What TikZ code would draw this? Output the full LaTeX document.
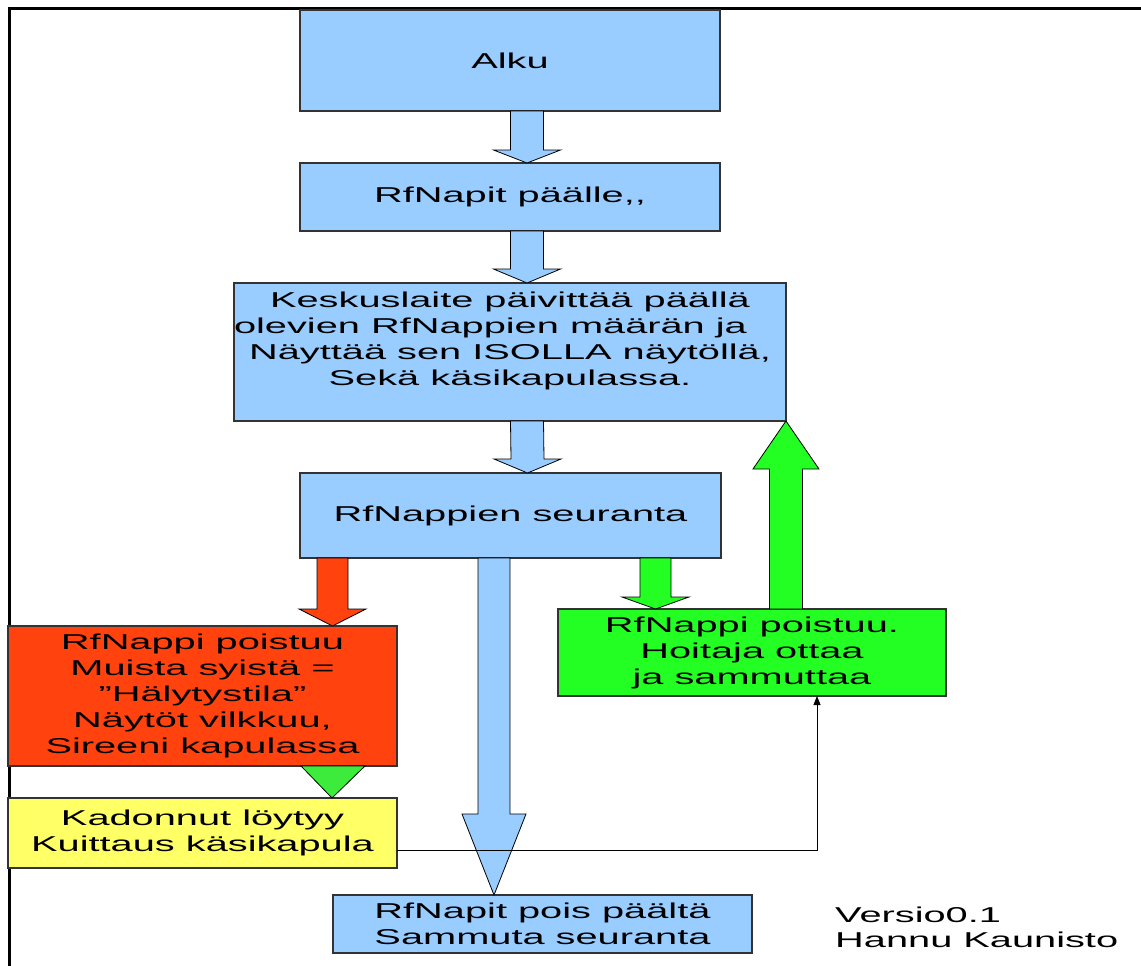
\documentclass[tikz,border=0pt]{standalone}
\usepackage{fontspec}
\setmainfont{Liberation Sans}[FakeStretch=1.85]
\usetikzlibrary{arrows.meta}
\definecolor{kblue}{HTML}{99CCFF}
\definecolor{kred}{HTML}{FF420E}
\definecolor{kgreen}{HTML}{23FF23}
\definecolor{kgreentri}{HTML}{3DEB3D}
\definecolor{kyellow}{HTML}{FFFF66}
\definecolor{kedge}{HTML}{333333}
\tikzset{laatikko/.style={draw=kedge, line width=1.3pt, rectangle, inner sep=0pt, outer sep=0pt, align=center, font=\fontsize{21.5}{26}\selectfont},
nuoli/.style={draw=black, line width=0.8pt}}
% block arrow: fill, start, tip, half shaft, half head, head base shift
\newcommand{\blokki}[6]{%
\filldraw[nuoli, fill=#1] ([xshift=-#4pt]#2) -- ([xshift=-#4pt,yshift=#6pt]#3) -- ([xshift=-#5pt,yshift=#6pt]#3) -- (#3) -- ([xshift=#5pt,yshift=#6pt]#3) -- ([xshift=#4pt,yshift=#6pt]#3) -- ([xshift=#4pt]#2) -- cycle;}
\begin{document}
\begin{tikzpicture}[x=1pt,y=-1pt]
\useasboundingbox (0,0) rectangle (1141,966);
\draw[line width=3pt] (9,966) -- (9,9) -- (1141,9);

% boxes
\node[laatikko, fill=kblue, minimum width=420pt, minimum height=101pt] (alku) at (510,60.5) {Alku};
\node[laatikko, fill=kblue, minimum width=420pt, minimum height=68pt] (paalle) at (510,197) {RfNapit päälle,{},};
\node[laatikko, fill=kblue, minimum width=550pt, minimum height=138pt] (kesk) at (510,352) {Keskuslaite päivittää päällä\\olevien RfNappien määrän ja\rule{39pt}{0pt}\\Näyttää sen ISOLLA näytöllä,\\Sekä käsikapulassa.\\ \mbox{}};
\node[laatikko, fill=kblue, minimum width=421pt, minimum height=85pt] (seur) at (510.5,515.5) {RfNappien seuranta};
\node[laatikko, fill=kred, minimum width=389pt, minimum height=140pt] (halytys) at (202.5,696) {RfNappi poistuu\\Muista syistä =\\”Hälytystila”\\Näytöt vilkkuu,\\Sireeni kapulassa};
\node[laatikko, fill=kgreen, minimum width=388pt, minimum height=87pt] (hoitaja) at (752,652.5) {RfNappi poistuu.\\Hoitaja ottaa\\ja sammuttaa};
\node[laatikko, fill=kyellow, minimum width=389pt, minimum height=70pt] (loytyy) at (202.5,833) {Kadonnut löytyy\\Kuittaus käsikapula};
\node[laatikko, fill=kblue, minimum width=419pt, minimum height=58pt] (pois) at (542.5,924) {RfNapit pois päältä\\Sammuta seuranta};
\node[anchor=west, align=left, inner sep=0pt, font=\fontsize{21.5}{25}\selectfont] (versio) at (835,927.5) {Versio0.1\\Hannu Kaunisto};

% arrows
\coordinate (a1) at ([xshift=17pt]alku.south);
\coordinate (b1) at ([xshift=17pt]paalle.north);
\coordinate (a2) at ([xshift=17pt]paalle.south);
\coordinate (b2) at ([xshift=17pt]kesk.north);
\coordinate (a3) at ([xshift=17pt]kesk.south);
\coordinate (b3) at ([xshift=17pt]seur.north);
\coordinate (a4) at ([xshift=-178pt]seur.south);
\coordinate (b4) at ([xshift=130pt]halytys.north);
\coordinate (a5) at ([xshift=-16.5pt]seur.south);
\coordinate (b5) at ([xshift=-48.5pt]pois.north);
\coordinate (a6) at ([xshift=145pt]seur.south);
\coordinate (b6) at ([xshift=-96.5pt]hoitaja.north);
\coordinate (b7) at (kesk.south east);
\coordinate (a7) at (b7 |- hoitaja.north);
\blokki{kblue}{a1}{b1}{16.5}{33.5}{13}
\blokki{kblue}{a2}{b2}{16.5}{33.5}{14}
\blokki{kblue}{a3}{b3}{16.5}{33.5}{14}
\blokki{kred}{a4}{b4}{15.5}{33.5}{17}
\blokki{kblue}{a5}{b5}{16}{32}{81}
\blokki{kgreen}{a6}{b6}{15.5}{33.5}{12}
\blokki{kgreen}{a7}{b7}{16.5}{33}{-48}
\filldraw[nuoli, fill=kgreentri] ([xshift=98.5pt]halytys.south) -- ([xshift=162.5pt]halytys.south) -- ([xshift=129.5pt]loytyy.north) -- cycle;
\draw[-{Triangle[length=9pt,width=7pt]}, line width=0.8pt] ([yshift=-17pt]loytyy.east) -| ([xshift=65pt]hoitaja.south);
\end{tikzpicture}
\end{document}
